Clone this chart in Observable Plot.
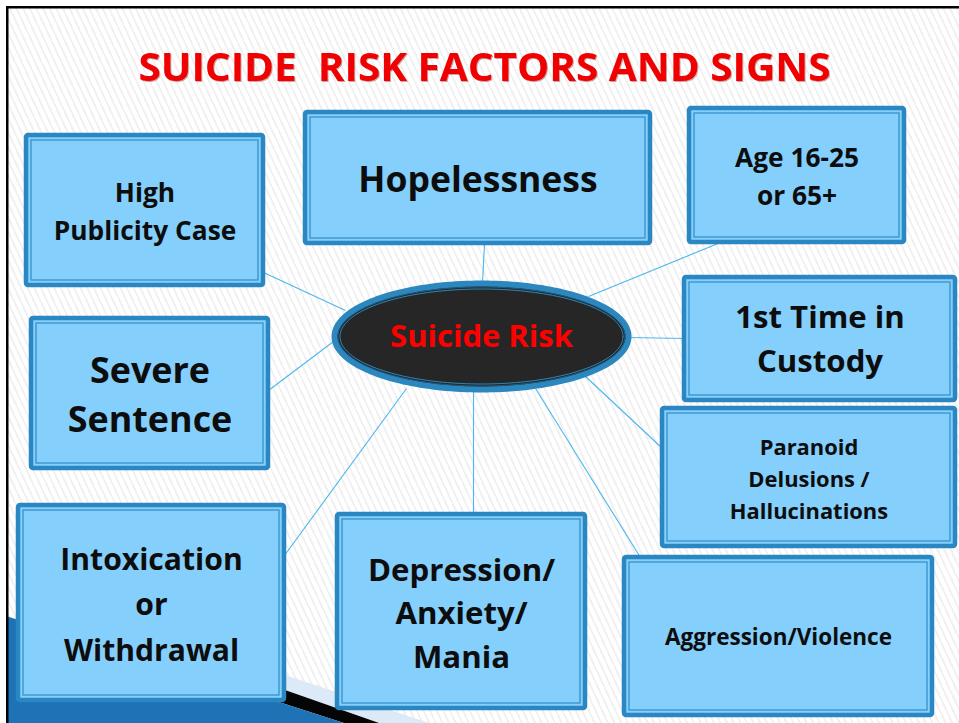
<!DOCTYPE html>
<html>
<head>
<meta charset="utf-8">
<script src="https://cdn.jsdelivr.net/npm/d3@7"></script>
<script src="https://cdn.jsdelivr.net/npm/@observablehq/plot@0.6"></script>
<style>
  html, body { margin: 0; padding: 0; background: #fff; }
  #chart svg { display: block; }
</style>
</head>
<body>
<div id="chart"></div>
<script>
// ---- content ----
const title = "SUICIDE  RISK FACTORS AND SIGNS";
const centerLabel = "Suicide Risk";
const factorLabels = [
  "High\nPublicity Case",
  "Hopelessness",
  "Age 16-25\nor 65+",
  "1st Time in\nCustody",
  "Severe\nSentence",
  "Paranoid\nDelusions /\nHallucinations",
  "Intoxication\nor\nWithdrawal",
  "Depression/\nAnxiety/\nMania",
  "Aggression/Violence"
];

// ---- layout (pixel space of the slide) ----
const boxLeft   = [26, 305, 689, 684, 31, 662, 18, 337, 624];
const boxRight  = [263, 650, 904, 955, 268, 955, 284, 585, 932];
const boxTop    = [135, 112, 108, 277, 318, 408, 505, 514, 557];
const boxBottom = [285, 243, 242, 400, 468, 546, 700, 708, 715];
const labelSize = [26.3, 35.5, 26.3, 31.2, 35.9, 21.9, 30.1, 31.2, 22.5];
const labelLead = [1.44, 1, 1.44, 1.41, 1.39, 1.46, 1.5, 1.39, 1];
const labelShift = [-2, 3, -2, -3, -2, -1, -2, -1, 1];
const linkBoxX  = [263, 484, 720, 684, 268, 662, 284, 473, 640];
const linkBoxY  = [272, 243, 242, 338, 390, 448, 555, 514, 557];
const linkHubX  = [345, 482, 588, 628, 337, 585, 406, 473, 535];
const linkHubY  = [310, 283, 296, 337, 338, 376, 388, 389, 388];
const hub = {cx: 481, cy: 336, rx: 147, ry: 53};
const swooshBlue  = [[7,616],[283,703],[345,723],[7,723]];
const swooshBlack = [[150,655],[283,689],[380,723],[345,723],[283,703],[150,662]];
const swooshLight = [[200,652],[283,674],[430,723],[380,723],[283,689],[200,660]];

// ---- derived tables ----
const boxes = factorLabels.map((label, i) => ({
  label, x1: boxLeft[i], x2: boxRight[i], y1: boxTop[i], y2: boxBottom[i],
  cx: (boxLeft[i] + boxRight[i]) / 2, cy: (boxTop[i] + boxBottom[i]) / 2 + labelShift[i],
  size: labelSize[i], lead: labelLead[i]
}));
const inner = boxes.map(b => ({x1: b.x1 + 5, x2: b.x2 - 5, y1: b.y1 + 5, y2: b.y2 - 5}));
const links = linkBoxX.map((x, i) => ({x1: x, y1: linkBoxY[i], x2: linkHubX[i], y2: linkHubY[i]}));
const ellipse = (rx, ry) => d3.range(0, 361, 2).map(a => ({
  x: hub.cx + rx * Math.cos(a * Math.PI / 180),
  y: hub.cy + ry * Math.sin(a * Math.PI / 180)
}));
const poly = pts => pts.map(([x, y]) => ({x, y}));

const font = "'Open Sans', Lato, sans-serif";

const plot = Plot.plot({
  width: 959, height: 723,
  margin: 0,
  x: {domain: [0, 959], range: [0, 959], axis: null},
  y: {domain: [0, 723], range: [0, 723], axis: null},
  style: {
    background: "repeating-linear-gradient(65deg, #ffffff 0px, #ffffff 4px, #f1f1f1 4px, #f1f1f1 6px)",
    fontFamily: font
  },
  marks: [
    // swoosh decoration
    Plot.line(poly(swooshLight), {x: "x", y: "y", fill: "#dce9f6", stroke: "none"}),
    Plot.line(poly(swooshBlack), {x: "x", y: "y", fill: "#050505", stroke: "none"}),
    Plot.line(poly(swooshBlue), {x: "x", y: "y", fill: "#1f72b6", stroke: "none"}),
    // slide frame
    Plot.rect([{x1: 7, x2: 990, y1: 7, y2: 760}], {x1: "x1", x2: "x2", y1: "y1", y2: "y2", fill: "none", stroke: "#000", strokeWidth: 3}),
    Plot.rect([{x1: 0, x2: 6, y1: 0, y2: 723}, {x1: 0, x2: 959, y1: 0, y2: 6}], {x1: "x1", x2: "x2", y1: "y1", y2: "y2", fill: "#fff"}),
    // connector lines
    Plot.link(links, {x1: "x1", y1: "y1", x2: "x2", y2: "y2", stroke: "#4cb6ee", strokeWidth: 1.1}),
    // boxes
    Plot.rect(boxes, {x1: "x1", x2: "x2", y1: "y1", y2: "y2", fill: "#84cffb", stroke: "#2b87c1", strokeWidth: 4.5, rx: 2}),
    Plot.rect(inner, {x1: "x1", x2: "x2", y1: "y1", y2: "y2", fill: "none", stroke: "#3791cb", strokeWidth: 1.3}),
    // hub ellipse
    Plot.line(ellipse(hub.rx, hub.ry), {x: "x", y: "y", fill: "#262626", stroke: "#2c87bf", strokeWidth: 6}),
    Plot.line(ellipse(hub.rx - 3.5, hub.ry - 3.5), {x: "x", y: "y", fill: "none", stroke: "#1b5f86", strokeWidth: 1}),
    Plot.line(ellipse(hub.rx - 5.5, hub.ry - 5.5), {x: "x", y: "y", fill: "none", stroke: "#2c87bf", strokeWidth: 1}),
    Plot.text([centerLabel], {x: () => hub.cx, y: () => hub.cy + 1, text: d => d, fill: "#ff0000", fontSize: 31, fontWeight: "bold"}),
    // box labels
    ...boxes.map(b => Plot.text([b], {x: "cx", y: "cy", text: "label", fontSize: b.size, lineHeight: b.lead, fontWeight: "bold", fill: "#0d0d0d"})),
    // title
    Plot.text([title], {x: () => 484, y: () => 68, text: d => d, fill: "#f00000", fontSize: 40, fontWeight: "bold"})
  ]
});

// fit the title to the slide's title width
d3.select(plot).selectAll("text").filter(function() { return this.textContent === title; })
  .attr("textLength", 692).attr("lengthAdjust", "spacingAndGlyphs")
  .style("white-space", "pre")
  .style("filter", "drop-shadow(1px 1px 0.6px rgba(120,0,0,0.35))");

document.getElementById("chart").append(plot);
</script>
</body>
</html>
